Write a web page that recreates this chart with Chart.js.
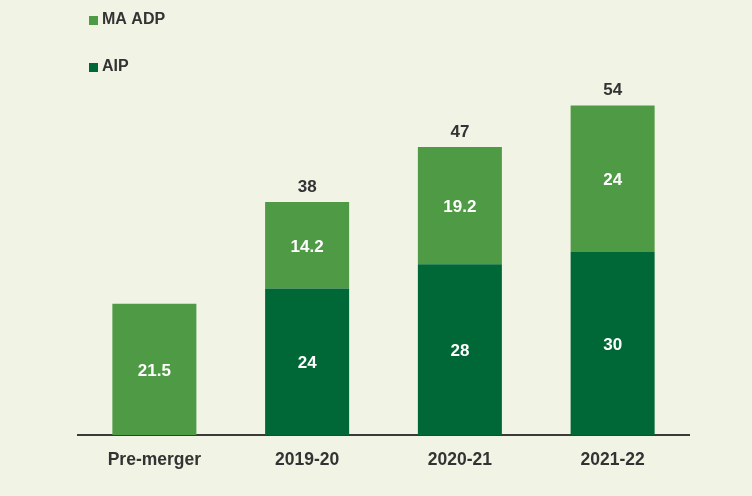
<!DOCTYPE html>
<html>
<head>
<meta charset="utf-8">
<script src="https://cdn.jsdelivr.net/npm/chart.js@4.4.1/dist/chart.umd.min.js"></script>
<style>
  html, body { margin: 0; padding: 0; background: #f1f4e5; }
  #wrap { width: 752px; height: 496px; }
</style>
</head>
<body>
<div id="wrap"><canvas id="grafico"></canvas></div>
<script>
const periodos = ['Pre-merger', '2019-20', '2020-21', '2021-22'];
const aip = [null, 24, 28, 30];
const maAdp = [21.5, 14.2, 19.2, 24];
const totales = [null, 38, 47, 54];

const verdeOscuro = '#006837';
const verdeClaro = '#4e9a45';
const texto = '#333333';
const fuente = 'Liberation Sans, Arial, sans-serif';

// leyenda vertical arriba a la izquierda + etiquetas de valores
const etiquetas = {
    id: 'etiquetas',
    afterDatasetsDraw(chart) {
        const ctx = chart.ctx;
        ctx.save();
        ctx.font = 'bold 17px ' + fuente;
        ctx.textAlign = 'center';
        ctx.textBaseline = 'middle';
        chart.data.datasets.forEach((ds, i) => {
            const meta = chart.getDatasetMeta(i);
            meta.data.forEach((bar, j) => {
                if (ds.data[j] == null) return;
                ctx.fillStyle = '#ffffff';
                ctx.fillText(ds.data[j], bar.x, (bar.y + bar.base) / 2 + 2);
            });
        });
        // totales encima de la pila
        const metaTop = chart.getDatasetMeta(1);
        metaTop.data.forEach((bar, j) => {
            if (totales[j] == null) return;
            ctx.fillStyle = texto;
            ctx.fillText(totales[j], bar.x, bar.y - 15);
        });
        // leyenda
        const orden = [1, 0];
        ctx.font = 'bold 16px ' + fuente;
        ctx.textAlign = 'left';
        orden.forEach((idx, k) => {
            const ds = chart.data.datasets[idx];
            const y = 20 + k * 47;
            ctx.fillStyle = ds.backgroundColor;
            ctx.fillRect(89, y - 4, 9, 9);
            ctx.fillStyle = texto;
            ctx.fillText(ds.label, 102, y);
        });
        ctx.restore();
    }
};

new Chart(document.getElementById('grafico'), {
    type: 'bar',
    data: {
        labels: periodos,
        datasets: [
            { label: 'AIP', data: aip, backgroundColor: verdeOscuro, stack: 's' },
            { label: 'MA ADP', data: maAdp, backgroundColor: verdeClaro, stack: 's' }
        ]
    },
    options: {
        responsive: true,
        maintainAspectRatio: false,
        animation: false,
        layout: { padding: { left: 78, right: 63, top: 69, bottom: 10 } },
        datasets: {
            bar: { categoryPercentage: 0.55, barPercentage: 1 }
        },
        plugins: {
            legend: { display: false },
            tooltip: { enabled: false }
        },
        scales: {
            x: {
                stacked: true,
                grid: { display: false, drawTicks: false },
                border: { color: '#3a3a3a', width: 2 },
                ticks: {
                    color: texto,
                    padding: 15,
                    font: { family: fuente, size: 17.5, weight: 'bold' }
                }
            },
            y: {
                stacked: true,
                display: false,
                min: 0,
                max: 60
            }
        }
    },
    plugins: [etiquetas]
});
</script>
</body>
</html>
